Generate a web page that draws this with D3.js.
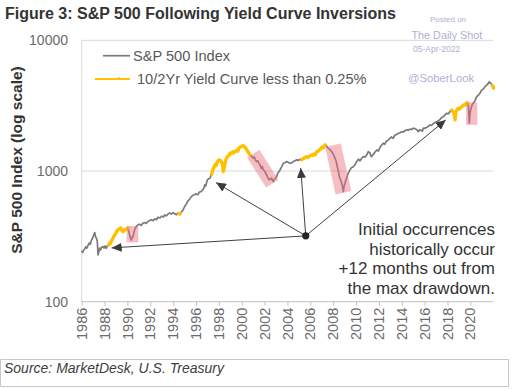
<!DOCTYPE html>
<html>
<head>
<meta charset="utf-8">
<script src="https://cdn.jsdelivr.net/npm/d3@7"></script>
<style>
	body { margin: 0; background: #fff; }
	svg { display: block; font-family: "Liberation Sans", Arial, sans-serif; }
</style>
</head>
<body>
<svg width="512" height="389"></svg>
<script>
//	DATA
/*
	dates, spx - S&P 500 index (decimal year, level)
	inversions - periods where the 10/2Yr curve was below 0.25% (yellow)
	drawdowns - pink boxes: [start, end, high, low]
	arrowDates, arrowValues - arrow tips (initial occurrences)
*/
var dates = [
	1986.00,1986.08,1986.15,1986.25,1986.35,1986.45,1986.55,1986.65,1986.75,1986.85,1986.95,
	1987.05,1987.14,1987.20,1987.28,1987.36,1987.43,1987.50,1987.57,1987.65,1987.75,1987.86,1987.95,
	1988.05,1988.15,1988.25,1988.36,1988.45,1988.52,1988.59,1988.70,1988.80,1988.89,
	1989.00,1989.10,1989.18,1989.30,1989.41,1989.50,1989.61,1989.72,1989.85,1989.95,
	1990.05,1990.12,1990.20,1990.28,1990.34,1990.42,1990.49,1990.56,1990.64,1990.72,1990.78,1990.85,1990.93,
	1991.05,1991.20,1991.35,1991.51,1991.65,1991.80,1991.95,
	1992.09,1992.25,1992.40,1992.55,1992.68,1992.85,
	1993.00,1993.15,1993.26,1993.40,1993.55,1993.70,1993.85,
	1994.00,1994.14,1994.30,1994.43,1994.50,1994.57,1994.62,1994.70,1994.85,
	1995.01,1995.15,1995.30,1995.45,1995.59,1995.75,1995.90,
	1996.03,1996.15,1996.30,1996.46,1996.60,1996.70,1996.76,1996.85,1996.93,1996.99,
	1997.10,1997.22,1997.30,1997.37,1997.45,1997.55,1997.66,1997.75,1997.88,
	1998.00,1998.10,1998.20,1998.30,1998.39,1998.46,1998.54,1998.62,1998.69,1998.80,1998.90,1998.97,
	1999.10,1999.20,1999.30,1999.41,1999.55,1999.65,1999.75,1999.85,1999.95,
	2000.05,2000.14,2000.25,2000.34,2000.44,2000.55,2000.65,2000.72,2000.85,
	2001.01,2001.10,2001.20,2001.31,2001.40,2001.50,2001.60,2001.70,2001.80,2001.89,
	2002.00,2002.10,2002.19,2002.30,2002.41,2002.50,2002.62,2002.70,2002.76,2002.85,2002.95,
	2003.06,2003.15,2003.25,2003.35,2003.50,2003.64,2003.80,2003.94,
	2004.05,2004.22,2004.35,2004.51,2004.65,2004.81,2004.95,
	2005.10,2005.25,2005.35,2005.50,2005.69,2005.80,2005.95,
	2006.12,2006.25,2006.35,2006.45,2006.56,2006.70,2006.85,
	2007.00,2007.10,2007.20,2007.29,2007.40,2007.50,2007.57,2007.70,2007.87,
	2008.00,2008.16,2008.25,2008.36,2008.45,2008.54,2008.62,2008.70,2008.75,2008.82,2008.89,2008.95,
	2009.04,2009.10,2009.18,2009.30,2009.47,2009.60,2009.76,2009.90,
	2010.06,2010.20,2010.35,2010.50,2010.64,2010.80,2010.95,
	2011.07,2011.20,2011.30,2011.37,2011.50,2011.65,2011.81,2011.95,
	2012.10,2012.25,2012.39,2012.50,2012.65,2012.80,2012.97,
	2013.10,2013.25,2013.40,2013.55,2013.70,2013.85,
	2014.00,2014.15,2014.30,2014.43,2014.55,2014.70,2014.85,
	2015.01,2015.15,2015.30,2015.45,2015.55,2015.70,2015.80,2015.89,
	2016.00,2016.15,2016.30,2016.47,2016.60,2016.75,2016.90,
	2017.06,2017.20,2017.35,2017.50,2017.64,2017.80,2017.93,
	2018.05,2018.15,2018.22,2018.30,2018.37,2018.45,2018.55,2018.62,2018.66,2018.72,2018.80,2018.88,2018.95,
	2019.05,2019.15,2019.25,2019.35,2019.45,2019.53,2019.62,2019.70,2019.78,2019.84,2019.88,2019.91,2019.96,
	2020.03,2020.10,2020.18,2020.26,2020.40,2020.56,2020.70,2020.85,
	2021.00,2021.15,2021.28,2021.45,2021.58,2021.66,2021.75,2021.87,2021.93,
	2022.00,2022.03
];
var spx = [
	245,238,247,252,263,257,270,281,275,296,306,
	322,338,318,306,292,228,242,257,249,262,264,257,
	267,256,268,272,281,279,290,301,316,324,
	336,349,355,363,366,352,344,353,359,356,
	366,345,322,303,296,312,314,336,356,369,377,382,388,
	391,384,398,404,397,411,418,
	424,417,431,424,443,437,
	451,445,461,454,469,477,469,
	481,470,464,476,471,468,474,481,500,
	535,558,592,609,637,652,661,
	668,659,691,696,722,745,783,768,820,855,
	872,881,921,950,1002,1058,1114,1098,1178,
	1216,1212,1181,1148,989,1052,1150,1222,1268,1301,1328,1368,
	1358,1402,1379,1407,1441,1418,1494,1521,1538,
	1550,1562,1528,1502,1452,1401,1362,1328,1298,
	1253,1281,1208,1180,1202,1148,1114,1049,1082,1019,
	1001,958,933,879,855,872,881,842,830,861,879,
	906,962,988,1019,1081,1147,1161,1180,
	1168,1147,1152,1181,1199,1216,1204,
	1230,1219,1242,1264,1288,1274,1301,
	1328,1318,1352,1339,1407,1421,1462,
	1520,1498,1552,1584,1561,1519,1494,1468,1407,
	1349,1253,1198,1080,1002,906,869,830,807,758,696,761,
	807,849,881,951,1019,1061,1080,1112,
	1180,1231,1198,1252,1288,1279,1331,
	1407,1382,1302,1288,1341,1389,1450,1421,
	1518,1579,1632,1598,1691,1722,1781,
	1821,1779,1882,1901,1944,1962,
	2001,1988,2041,2062,2049,2091,2078,
	2125,2108,2079,2000,2061,2048,2018,2125,
	2119,2152,2181,2251,2229,2302,2348,
	2386,2421,2482,2558,2605,2702,2766,
	2731,2798,2845,2902,2931,2862,2801,2640,2460,2762,2898,2981,3020,
	2979,3061,3107,3148,3221,3201,3282,3330,3300,3050,2600,2319,2702,
	2931,3105,3248,3301,3452,3707,3802,3949,
	4169,4251,4418,4552,4702,4822,4701,4634,4480,
	4440,4295
];
var inversions = [[1988.36, 1990.05], [1994.50, 1994.62], [1997.37, 2000.72],
	[2005.25, 2007.29], [2018.37, 2019.78], [2021.93, 2022.03]];
var drawdowns = [
	[1990.44, 1990.44, 380, 284],
	[2001.01, 2002.67, 1358, 800],
	[2007.98, 2008.90, 1575, 681],
	[2020.12, 2020.12, 3334, 2251]
];
var arrowDates = [1988.62, 1997.75, 2005.16, 2017.85],
	arrowValues = [258, 815, 1056, 2459],
	hub = [2005.6, 319];
var yTicks = [100, 1000, 10000],
	xTicks = d3.range(1986, 2021, 2);
var noteLines = ["Initial occurrences", "historically occur", "+12 months out from", "the max drawdown."];
var legendItems = ["S&P 500 Index", "10/2Yr Yield Curve less than 0.25%"];

//	SCALES
var svg = d3.select("svg"),
	x = d3.scaleLinear().domain([1986, 2022]).range([81.7, 493.2]),
	y = d3.scaleLog().domain([100, 10000]).range([301.7, 40.3]);

var pts = dates.map(function(d, i) { return [d, spx[i]]; });
var line = d3.line()
	.x(function(d) { return x(d[0]); })
	.y(function(d) { return y(d[1]); });

// gridlines (10000 and 1000) and the axis lines
svg.append("g").selectAll("line").data(yTicks.slice(1)).enter().append("line")
	.attr("x1", x.range()[0]).attr("x2", x.range()[1])
	.attr("y1", function(d) { return y(d); }).attr("y2", function(d) { return y(d); })
	.attr("stroke", "#d9d9d9").attr("stroke-width", 1);
svg.append("line")
	.attr("x1", x.range()[0]).attr("x2", x.range()[0])
	.attr("y1", y(10000)).attr("y2", y(100))
	.attr("stroke", "#d9d9d9");

// y axis labels
svg.append("g").selectAll("text").data(yTicks).enter().append("text")
	.attr("x", 68).attr("y", function(d) { return y(d); })
	.attr("dy", "0.35em").attr("text-anchor", "end")
	.attr("font-size", 14).attr("fill", "#6b6b6b")
	.text(function(d) { return d; });

// x axis, ticks below and rotated year labels
var xAxis = svg.append("g")
	.attr("transform", "translate(0," + y(100) + ")")
	.call(d3.axisBottom(x).tickValues(xTicks).tickSize(4).tickFormat(""));
xAxis.select(".domain").attr("stroke", "#bfbfbf").attr("d", "M" + x.range()[0] + ",0H" + x.range()[1]);
xAxis.selectAll(".tick line").attr("stroke", "#bfbfbf");
svg.append("g").selectAll("text").data(xTicks).enter().append("text")
	.attr("transform", function(d) { return "translate(" + x(d) + "," + (y(100) + 6) + ") rotate(-90)"; })
	.attr("dy", "0.35em").attr("text-anchor", "end")
	.attr("font-size", 14.5).attr("fill", "#6b6b6b")
	.text(function(d) { return d; });

// S&P 500 gray line
svg.append("path").datum(pts)
	.attr("d", line).attr("fill", "none")
	.attr("stroke", "#7a7a7a").attr("stroke-width", 1.7)
	.attr("stroke-linejoin", "round");

// yellow parts where the curve was flat/inverted
svg.append("g").selectAll("path").data(inversions).enter().append("path")
	.attr("d", function(p) {
		return line(pts.filter(function(d) { return d[0] >= p[0] - 1e-6 && d[0] <= p[1] + 1e-6; }));
	})
	.attr("fill", "none").attr("stroke", "#ffc000").attr("stroke-width", 3.4)
	.attr("stroke-linejoin", "round").attr("stroke-linecap", "round");

// pink drawdown boxes, a band around the segment high -> low
var boxW = [11.6, 14.6, 16, 11.3];
svg.append("g").selectAll("polygon").data(drawdowns).enter().append("polygon")
	.attr("points", function(b, i) {
		var x0 = x(b[0]), y0 = y(b[2]), x1 = x(b[1]), y1 = y(b[3]),
			len = Math.sqrt((x1 - x0) * (x1 - x0) + (y1 - y0) * (y1 - y0)),
			nx = -(y1 - y0) / len * boxW[i] / 2, ny = (x1 - x0) / len * boxW[i] / 2;
		return [[x0 + nx, y0 + ny], [x1 + nx, y1 + ny], [x1 - nx, y1 - ny], [x0 - nx, y0 - ny]].join(" ");
	})
	.attr("fill", "#ec6f7c").attr("fill-opacity", 0.45);

// arrows from the hub to the initial occurrences
svg.append("defs").append("marker")
	.attr("id", "head").attr("markerUnits", "userSpaceOnUse")
	.attr("markerWidth", 11).attr("markerHeight", 9)
	.attr("refX", 10).attr("refY", 4.5).attr("orient", "auto")
	.append("path").attr("d", "M0,0L10,4.5L0,9Z").attr("fill", "#3a3a3a");
svg.append("g").selectAll("line").data(arrowDates).enter().append("line")
	.attr("x1", x(hub[0])).attr("y1", y(hub[1]))
	.attr("x2", function(d) { return x(d); })
	.attr("y2", function(d, i) { return y(arrowValues[i]); })
	.attr("stroke", "#404040").attr("stroke-width", 1)
	.attr("marker-end", "url(#head)");
svg.append("circle").attr("cx", x(hub[0])).attr("cy", y(hub[1])).attr("r", 3.6).attr("fill", "#262626");

// annotation
svg.append("g").selectAll("text").data(noteLines).enter().append("text")
	.attr("x", 495).attr("y", function(d, i) { return 235 + i * 19.5; })
	.attr("text-anchor", "end").attr("font-size", 17).attr("fill", "#333")
	.text(function(d) { return d; });

// legend
svg.append("line").attr("x1", 103).attr("x2", 130).attr("y1", 55.7).attr("y2", 55.7)
	.attr("stroke", "#7a7a7a").attr("stroke-width", 1.7);
svg.append("line").attr("x1", 95).attr("x2", 130).attr("y1", 79).attr("y2", 79)
	.attr("stroke", "#ffc000").attr("stroke-width", 2);
svg.append("path").attr("d", "M117,79L119,76.5L121,79Z").attr("fill", "#ffc000");
svg.append("g").selectAll("text").data(legendItems).enter().append("text")
	.attr("x", function(d, i) { return i ? 137 : 133; })
	.attr("y", function(d, i) { return i ? 84 : 60.5; })
	.attr("font-size", 14.6).attr("fill", "#595959")
	.text(function(d) { return d; });

// titles
svg.append("text").attr("x", 5).attr("y", 19)
	.attr("font-size", 16).attr("font-weight", "bold").attr("fill", "#333")
	.text("Figure 3: S&P 500 Following Yield Curve Inversions");
svg.append("text")
	.attr("transform", "translate(22,160) rotate(-90)")
	.attr("text-anchor", "middle").attr("font-size", 15.5).attr("font-weight", "bold").attr("fill", "#333")
	.text("S&P 500 Index (log scale)");

// watermark
var wm = svg.append("g").attr("fill", "#aeb0d4");
wm.append("text").attr("x", 430).attr("y", 22).attr("font-size", 8).text("Posted on");
wm.append("text").attr("x", 411.5).attr("y", 39).attr("font-size", 10.8).text("The Daily Shot");
wm.append("text").attr("x", 413).attr("y", 52).attr("font-size", 8.5).text("05-Apr-2022");
wm.append("text").attr("x", 408).attr("y", 82).attr("font-size", 11.3).text("@SoberLook");

// source box
svg.append("path")
	.attr("d", "M0.5,359.5H508.5V386.5H0.5Z")
	.attr("fill", "none").attr("stroke", "#c8c8c8");
svg.append("text").attr("x", 4).attr("y", 373)
	.attr("font-size", 14).attr("font-style", "italic").attr("fill", "#404040")
	.text("Source: MarketDesk, U.S. Treasury");
</script>
</body>
</html>
